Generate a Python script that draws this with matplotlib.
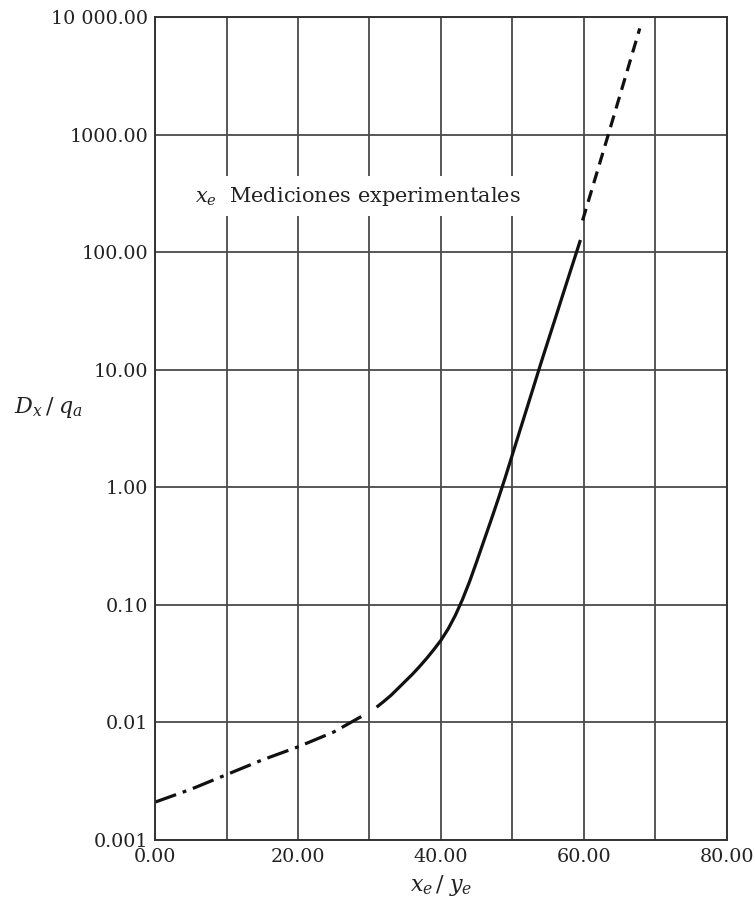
import matplotlib
matplotlib.use("Agg")
import matplotlib.pyplot as plt
from matplotlib.ticker import FixedLocator, FixedFormatter

plt.rcParams["font.family"] = ["DejaVu Serif"]
plt.rcParams["mathtext.fontset"] = "dejavuserif"

# Extrapolated low range (dash-dot)
low_x = [0, 5, 10, 15, 20, 25, 29.7]
low_y = [0.0021, 0.0027, 0.0036, 0.0048, 0.0062, 0.0083, 0.0120]

# Measured range (solid)
mid_x = [31, 32, 33, 34, 35, 36, 37, 38, 39, 40, 41, 42, 43, 44, 45, 46, 47,
         48, 49, 50, 51, 52, 53, 54, 55, 56, 57, 58, 59, 59.5]
mid_y = [0.0135, 0.0151, 0.017, 0.0195, 0.0224, 0.0257, 0.0299, 0.0351, 0.0417,
         0.0501, 0.0624, 0.0813, 0.111, 0.158, 0.234, 0.351, 0.525, 0.794, 1.22,
         1.91, 2.99, 4.68, 7.33, 11.5, 17.8, 27.5, 42.7, 66.1, 102, 127]

# Extrapolated high range (dashed)
high_x = [59.8, 63.4, 67.8]
high_y = [186, 1000, 8000]

x_ticks = [0, 10, 20, 30, 40, 50, 60, 70, 80]
x_labels = ["0.00", "", "20.00", "", "40.00", "", "60.00", "", "80.00"]
y_ticks = [0.001, 0.01, 0.1, 1, 10, 100, 1000, 10000]
y_labels = ["0.001", "0.01", "0.10", "1.00", "10.00", "100.00", "1000.00", "10 000.00"]

fig = plt.figure(figsize=(7.55, 9.11), dpi=100)
ax = fig.add_axes([0.2053, 0.0779, 0.9629 - 0.2053, 0.9813 - 0.0779])

ax.set_yscale("log")
ax.set_xlim(0, 80)
ax.set_ylim(0.001, 10000)

ax.xaxis.set_major_locator(FixedLocator(x_ticks))
ax.xaxis.set_major_formatter(FixedFormatter(x_labels))
ax.yaxis.set_major_locator(FixedLocator(y_ticks))
ax.yaxis.set_major_formatter(FixedFormatter(y_labels))
ax.yaxis.set_minor_locator(FixedLocator([]))
ax.tick_params(axis="both", length=0, labelsize=13.8, colors="#222222")
ax.tick_params(axis="y", pad=5)
ax.tick_params(axis="x", pad=6)

ax.grid(True, which="major", color="#4a4a4a", linewidth=1.3)
for s in ax.spines.values():
    s.set_color("#333333")
    s.set_linewidth(1.4)

ax.plot(low_x, low_y, color="#111111", lw=2.3, dashes=(7, 2.2, 1.2, 2.2))
ax.plot(mid_x, mid_y, color="#111111", lw=2.3, solid_capstyle="butt")
ax.plot(high_x, high_y, color="#111111", lw=2.3, dashes=(3.8, 2.3))

ax.text(5.6, 300, r"$x_e$  Mediciones experimentales", fontsize=15,
        ha="left", va="center", color="#222222",
        bbox=dict(facecolor="white", edgecolor="none", pad=6))

fig.text(48 / 755, 1 - 408 / 911, r"$D_x\,/\;q_a$", fontsize=16,
         ha="center", va="center", color="#222222")
fig.text(441 / 755, 1 - 885 / 911, r"$x_e\,/\;y_e$", fontsize=16,
         ha="center", va="center", color="#222222")

fig.savefig("out.png", dpi=100, facecolor="white")
